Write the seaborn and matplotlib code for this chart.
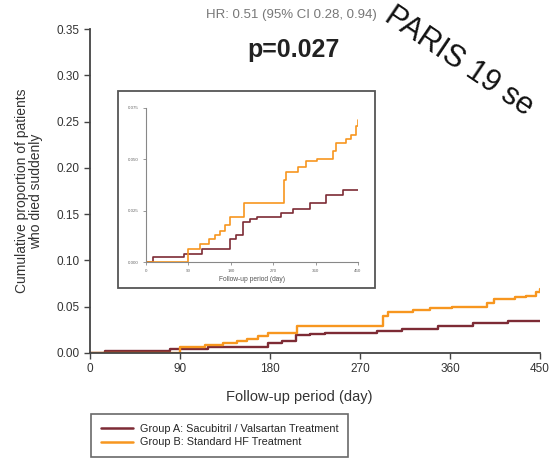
import matplotlib
matplotlib.use("Agg")
import matplotlib.pyplot as plt
from matplotlib.patches import Rectangle
import seaborn as sns
import pandas as pd

# ---- data ----
days_a = [0, 15, 80, 118, 178, 192, 206, 220, 235, 287, 312, 348, 383, 418, 450]
cum_a = [0.0, 0.0025, 0.004, 0.0065, 0.011, 0.013, 0.0196, 0.021, 0.022, 0.0237,
         0.026, 0.0286, 0.0327, 0.035, 0.035]
days_b = [0, 90, 115, 133, 147, 157, 168, 178, 207, 293, 298, 323, 340, 362,
          397, 404, 425, 436, 446, 450]
cum_b = [0.0, 0.0065, 0.009, 0.011, 0.013, 0.015, 0.018, 0.022, 0.0286, 0.040,
         0.044, 0.046, 0.049, 0.050, 0.054, 0.058, 0.060, 0.062, 0.066, 0.069]
group_a = "Group A: Sacubitril / Valsartan Treatment"
group_b = "Group B: Standard HF Treatment"
x_ticks = [0, 90, 180, 270, 360, 450]
main_y_ticks = [0.00, 0.05, 0.10, 0.15, 0.20, 0.25, 0.30, 0.35]
inset_y_ticks = [0.000, 0.025, 0.050, 0.075]

df = pd.concat([
    pd.DataFrame({"day": days_a, "cum": cum_a, "group": group_a}),
    pd.DataFrame({"day": days_b, "cum": cum_b, "group": group_b}),
], ignore_index=True)

palette = {group_a: "#7d2b35", group_b: "#f7961f"}

sns.set_theme(style="white")
plt.rcParams["font.family"] = ["Liberation Sans", "DejaVu Sans"]

fig = plt.figure(figsize=(5.49, 4.59), dpi=100)
ax = fig.add_axes([0.164, 0.231, 0.8196, 0.7058])

sns.lineplot(data=df, x="day", y="cum", hue="group", palette=palette,
             drawstyle="steps-post", linewidth=1.7, ax=ax, legend=True,
             estimator=None, sort=False)
ax.set_xlim(0, 450)
ax.set_ylim(0, 0.35)
ax.set_xticks(x_ticks)
ax.set_xticklabels([str(t) for t in x_ticks])
ax.set_yticks(main_y_ticks)
ax.set_yticklabels([f"{t:.2f}" for t in main_y_ticks])
for s in ["top", "right"]:
    ax.spines[s].set_visible(False)
for s in ["left", "bottom"]:
    ax.spines[s].set_color("#444444")
    ax.spines[s].set_linewidth(1.3)
ax.tick_params(axis="both", which="both", direction="out", length=4, width=1,
               color="#444444", labelsize=8.5, labelcolor="#333333", left=True, bottom=True)
ax.set_xlabel("Follow-up period (day)", fontsize=10.5, color="#333333")
ax.xaxis.set_label_coords(0.466, -0.115)
ax.set_ylabel("Cumulative proportion of patients\nwho died suddenly", fontsize=10,
              color="#333333", linespacing=1.0)
ax.yaxis.set_label_coords(-0.105, 0.5)

leg = ax.legend(loc="upper left", bbox_to_anchor=(0.156, 0.11),
                bbox_transform=fig.transFigure, fontsize=7.8,
                frameon=True, fancybox=False, edgecolor="#444444", handlelength=3.0,
                handletextpad=0.6, borderpad=0.9, labelspacing=0.35, title=None)
leg.get_frame().set_linewidth(1.2)
for line in leg.get_lines():
    line.set_linewidth(1.8)

# titles
fig.text(0.53, 0.967, "HR: 0.51 (95% CI 0.28, 0.94)", ha="center", va="center",
         fontsize=9.5, color="#777777")
fig.text(0.534, 0.891, "p=0.027", ha="center", va="center", fontsize=18,
         fontweight="bold", color="#222222")
fig.text(0.835, 0.865, "PARIS 19 se", ha="center", va="center", fontsize=22,
         rotation=-34, color="#111111")

# inset frame
fig.patches.append(Rectangle((0.215, 0.3725), 0.468, 0.4292, transform=fig.transFigure,
                             fill=True, facecolor="white", edgecolor="#555555",
                             linewidth=1.3, zorder=2))

inset = fig.add_axes([0.266, 0.429, 0.386, 0.336], zorder=3)
sns.lineplot(data=df, x="day", y="cum", hue="group", palette=palette,
             drawstyle="steps-post", linewidth=1.2, ax=inset, legend=False,
             estimator=None, sort=False)
inset.set_xlim(0, 450)
inset.set_ylim(0, 0.075)
inset.set_xticks(x_ticks)
inset.set_xticklabels([str(t) for t in x_ticks])
inset.set_yticks(inset_y_ticks)
inset.set_yticklabels([f"{t:.3f}" for t in inset_y_ticks])
for s in ["top", "right"]:
    inset.spines[s].set_visible(False)
for s in ["left", "bottom"]:
    inset.spines[s].set_color("#888888")
    inset.spines[s].set_linewidth(0.8)
inset.tick_params(axis="both", direction="out", length=2, width=0.6, color="#888888",
                  labelsize=3.2, labelcolor="#666666", pad=3, left=True, bottom=True)
inset.set_xlabel("Follow-up period (day)", fontsize=4.8, color="#555555", labelpad=2)
inset.set_ylabel("")
inset.set_facecolor("white")

fig.savefig("out.png", dpi=100)
